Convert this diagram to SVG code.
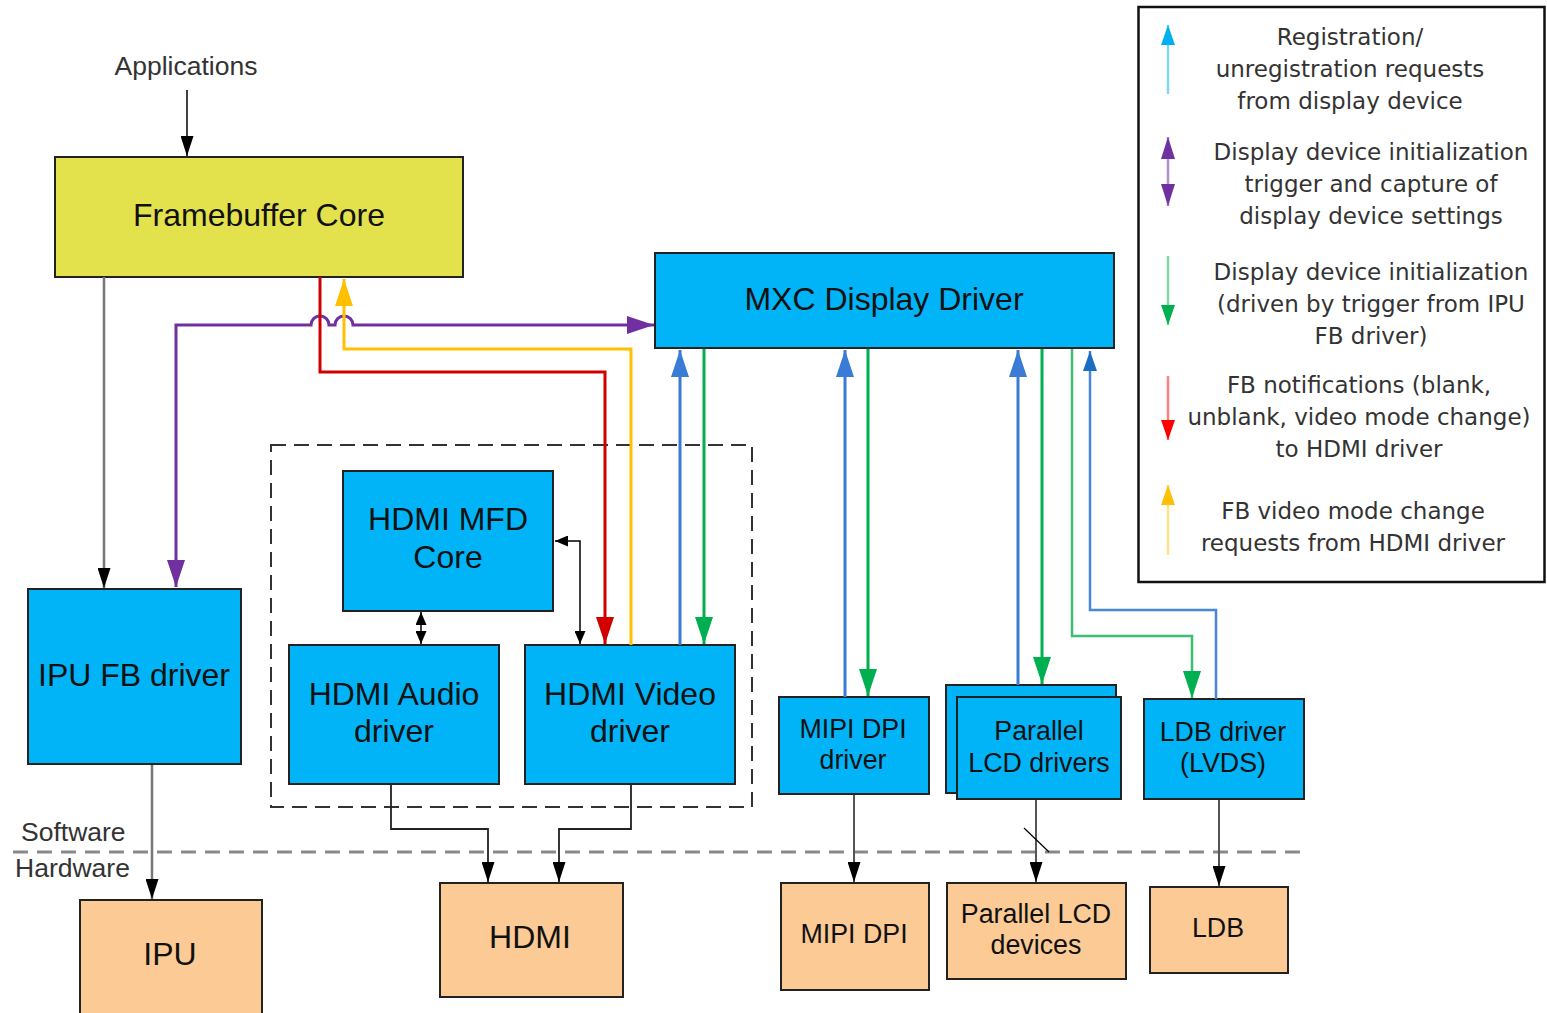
<svg xmlns="http://www.w3.org/2000/svg" width="1547" height="1013" viewBox="0 0 1547 1013">
<style>
.node rect{stroke:#222;stroke-width:2}
.sw rect{fill:#00B4F7}
.hw rect{fill:#FCCA95}
.t31{font-family:"Liberation Sans",Arial,sans-serif;font-size:32px;fill:#111;text-anchor:middle}
.t26{font-family:"Liberation Sans",Arial,sans-serif;font-size:26.8px;fill:#111;text-anchor:middle}
.lab{font-family:"Liberation Sans",Arial,sans-serif;font-size:26.5px;fill:#333}
.leg{font-family:"DejaVu Sans","Liberation Sans",sans-serif;font-size:23px;fill:#333;text-anchor:middle}
.c{fill:none}
</style>
<defs>
<marker id="mBlack" viewBox="0 0 20 13" markerWidth="20" markerHeight="13" refX="20" refY="6.5" orient="auto-start-reverse" markerUnits="userSpaceOnUse"><path d="M0,0 L20,6.5 L0,13 z" fill="#000"/></marker>
<marker id="mSmall" viewBox="0 0 13 11" markerWidth="13" markerHeight="11" refX="13" refY="5.5" orient="auto-start-reverse" markerUnits="userSpaceOnUse"><path d="M0,0 L13,5.5 L0,11 z" fill="#000"/></marker>
<marker id="mPurple" viewBox="0 0 27 18" markerWidth="27" markerHeight="18" refX="27" refY="9" orient="auto-start-reverse" markerUnits="userSpaceOnUse"><path d="M0,0 L27,9 L0,18 z" fill="#7030A0"/></marker>
<marker id="mRed" viewBox="0 0 27 18" markerWidth="27" markerHeight="18" refX="27" refY="9" orient="auto" markerUnits="userSpaceOnUse"><path d="M0,0 L27,9 L0,18 z" fill="#D00000"/></marker>
<marker id="mYellow" viewBox="0 0 27 18" markerWidth="27" markerHeight="18" refX="27" refY="9" orient="auto" markerUnits="userSpaceOnUse"><path d="M0,0 L27,9 L0,18 z" fill="#FFC000"/></marker>
<marker id="mBlue" viewBox="0 0 27 18" markerWidth="27" markerHeight="18" refX="27" refY="9" orient="auto" markerUnits="userSpaceOnUse"><path d="M0,0 L27,9 L0,18 z" fill="#3A7BD5"/></marker>
<marker id="mBlueDk" viewBox="0 0 20 14" markerWidth="20" markerHeight="14" refX="20" refY="7" orient="auto" markerUnits="userSpaceOnUse"><path d="M0,0 L20,7 L0,14 z" fill="#1C6CC4"/></marker>
<marker id="mGreen" viewBox="0 0 27 18" markerWidth="27" markerHeight="18" refX="27" refY="9" orient="auto" markerUnits="userSpaceOnUse"><path d="M0,0 L27,9 L0,18 z" fill="#00B050"/></marker>
<marker id="lCyan" viewBox="0 0 20 14" markerWidth="20" markerHeight="14" refX="20" refY="7" orient="auto-start-reverse" markerUnits="userSpaceOnUse"><path d="M0,0 L20,7 L0,14 z" fill="#00B0F0"/></marker>
<marker id="lPurple" viewBox="0 0 22 14" markerWidth="22" markerHeight="14" refX="22" refY="7" orient="auto-start-reverse" markerUnits="userSpaceOnUse"><path d="M0,0 L22,7 L0,14 z" fill="#7030A0"/></marker>
<marker id="lGreen" viewBox="0 0 20 14" markerWidth="20" markerHeight="14" refX="20" refY="7" orient="auto-start-reverse" markerUnits="userSpaceOnUse"><path d="M0,0 L20,7 L0,14 z" fill="#00B050"/></marker>
<marker id="lRed" viewBox="0 0 20 14" markerWidth="20" markerHeight="14" refX="20" refY="7" orient="auto-start-reverse" markerUnits="userSpaceOnUse"><path d="M0,0 L20,7 L0,14 z" fill="#FF0000"/></marker>
<marker id="lYellow" viewBox="0 0 20 14" markerWidth="20" markerHeight="14" refX="20" refY="7" orient="auto-start-reverse" markerUnits="userSpaceOnUse"><path d="M0,0 L20,7 L0,14 z" fill="#FFC000"/></marker>
</defs>
<rect width="1547" height="1013" fill="#fff"/>

<!-- dashed HDMI group and software/hardware separator -->
<rect id="hdmi-group" x="271" y="445" width="481" height="362" fill="none" stroke="#333" stroke-width="2" stroke-dasharray="15 8"/>
<line id="sw-hw-separator" x1="13" y1="852" x2="1305" y2="852" stroke="#888" stroke-width="3" stroke-dasharray="15 9"/>
<text class="lab" x="21" y="841">Software</text>
<text class="lab" x="15" y="877">Hardware</text>
<text class="lab" x="186" y="75" text-anchor="middle">Applications</text>

<!-- nodes -->
<g id="framebuffer-core" class="node"><rect x="55" y="157" width="408" height="120" fill="#E3E24D"/><text class="t31" x="259" y="226">Framebuffer Core</text></g>
<g id="mxc-display-driver" class="node sw"><rect x="655" y="253" width="459" height="95"/><text class="t31" x="884" y="310">MXC Display Driver</text></g>
<g id="ipu-fb-driver" class="node sw"><rect x="28" y="589" width="213" height="175"/><text class="t31" x="134" y="686">IPU FB driver</text></g>
<g id="hdmi-mfd-core" class="node sw"><rect x="343" y="471" width="210" height="140"/><text class="t31" x="448" y="530">HDMI MFD</text><text class="t31" x="448" y="568">Core</text></g>
<g id="hdmi-audio-driver" class="node sw"><rect x="289" y="645" width="210" height="139"/><text class="t31" x="394" y="705">HDMI Audio</text><text class="t31" x="394" y="742">driver</text></g>
<g id="hdmi-video-driver" class="node sw"><rect x="525" y="645" width="210" height="139"/><text class="t31" x="630" y="705">HDMI Video</text><text class="t31" x="630" y="742">driver</text></g>
<g id="mipi-dpi-driver" class="node sw"><rect x="779" y="697" width="150" height="97"/><text class="t26" x="853" y="738">MIPI DPI</text><text class="t26" x="853" y="769">driver</text></g>
<g id="parallel-lcd-drivers" class="node sw"><rect x="946" y="685" width="170" height="108"/><rect x="957" y="697" width="164" height="102"/><text class="t26" x="1039" y="740">Parallel</text><text class="t26" x="1039" y="772">LCD drivers</text></g>
<g id="ldb-driver" class="node sw"><rect x="1144" y="699" width="160" height="100"/><text class="t26" x="1223" y="741">LDB driver</text><text class="t26" x="1223" y="772">(LVDS)</text></g>
<g id="ipu" class="node hw"><rect x="80" y="900" width="182" height="118"/><text class="t31" x="170" y="965">IPU</text></g>
<g id="hdmi" class="node hw"><rect x="440" y="883" width="183" height="114"/><text class="t31" x="530" y="948">HDMI</text></g>
<g id="mipi-dpi" class="node hw"><rect x="781" y="883" width="148" height="107"/><text class="t26" x="854" y="943">MIPI DPI</text></g>
<g id="parallel-lcd-devices" class="node hw"><rect x="947" y="883" width="179" height="96"/><text class="t26" x="1036" y="923">Parallel LCD</text><text class="t26" x="1036" y="954">devices</text></g>
<g id="ldb" class="node hw"><rect x="1150" y="887" width="138" height="86"/><text class="t26" x="1218" y="937">LDB</text></g>

<!-- connectors -->
<g id="connectors" class="c">
<path d="M187,90 V156" stroke="#000" stroke-width="1.5" marker-end="url(#mBlack)"/>
<path d="M104,277 V588" stroke="#777" stroke-width="2.5" marker-end="url(#mBlack)"/>
<path d="M176,587 V325 H311 a9,9 0 0 1 18,0 H335 a9,9 0 0 1 18,0 H654" stroke="#7030A0" stroke-width="3" marker-start="url(#mPurple)" marker-end="url(#mPurple)"/>
<path d="M320,277 V372 H605 V644" stroke="#D00000" stroke-width="3" marker-end="url(#mRed)"/>
<path d="M631,645 V349 H344 V279" stroke="#FFC000" stroke-width="3" marker-end="url(#mYellow)"/>
<path d="M680,645 V350" stroke="#3A7BD5" stroke-width="3" marker-end="url(#mBlue)"/>
<path d="M704,349 V644" stroke="#00B050" stroke-width="3" marker-end="url(#mGreen)"/>
<path d="M845,697 V350" stroke="#3A7BD5" stroke-width="3" marker-end="url(#mBlue)"/>
<path d="M868,349 V696" stroke="#00B050" stroke-width="3" marker-end="url(#mGreen)"/>
<path d="M1018,685 V350" stroke="#3A7BD5" stroke-width="3" marker-end="url(#mBlue)"/>
<path d="M1042,349 V684" stroke="#00B050" stroke-width="3" marker-end="url(#mGreen)"/>
<path d="M1072,349 V636 H1192 V698" stroke="#3CC070" stroke-width="2.5" marker-end="url(#mGreen)"/>
<path d="M1216,699 V610 H1090 V351" stroke="#4A86D8" stroke-width="2.5" marker-end="url(#mBlueDk)"/>
<path d="M421,612 V644" stroke="#000" stroke-width="1.5" marker-start="url(#mSmall)" marker-end="url(#mSmall)"/>
<path d="M555,541 H580 V644" stroke="#000" stroke-width="1.5" marker-start="url(#mSmall)" marker-end="url(#mSmall)"/>
<path d="M391,785 V829 H488 V882" stroke="#222" stroke-width="1.8" marker-end="url(#mBlack)"/>
<path d="M631,785 V829 H559 V882" stroke="#222" stroke-width="1.8" marker-end="url(#mBlack)"/>
<path d="M152,765 V899" stroke="#777" stroke-width="2.5" marker-end="url(#mBlack)"/>
<path d="M854,795 V882" stroke="#555" stroke-width="2" marker-end="url(#mBlack)"/>
<path d="M1036,800 V882" stroke="#555" stroke-width="2" marker-end="url(#mBlack)"/>
<path d="M1024,828 L1049,852" stroke="#000" stroke-width="1.2"/>
<path d="M1219,800 V886" stroke="#555" stroke-width="2" marker-end="url(#mBlack)"/>
</g>

<!-- legend -->
<g id="legend">
<rect x="1138.5" y="7" width="406" height="575" fill="none" stroke="#111" stroke-width="2.5"/>
<path d="M1168,94 V25" stroke="#80D4F6" stroke-width="2.5" fill="none" marker-end="url(#lCyan)"/>
<path d="M1168,137 V206" stroke="#AE90CF" stroke-width="2.5" fill="none" marker-start="url(#lPurple)" marker-end="url(#lPurple)"/>
<path d="M1168,256 V325" stroke="#80D8A4" stroke-width="2.5" fill="none" marker-end="url(#lGreen)"/>
<path d="M1168,376 V440" stroke="#FF8080" stroke-width="2.5" fill="none" marker-end="url(#lRed)"/>
<path d="M1168,555 V485" stroke="#FFE08A" stroke-width="2.5" fill="none" marker-end="url(#lYellow)"/>
<text class="leg" x="1350" y="45">Registration/</text>
<text class="leg" x="1350" y="77">unregistration requests</text>
<text class="leg" x="1350" y="109">from display device</text>
<text class="leg" x="1371" y="160">Display device initialization</text>
<text class="leg" x="1371" y="192">trigger and capture of</text>
<text class="leg" x="1371" y="224">display device settings</text>
<text class="leg" x="1371" y="280">Display device initialization</text>
<text class="leg" x="1371" y="312">(driven by trigger from IPU</text>
<text class="leg" x="1371" y="344">FB driver)</text>
<text class="leg" x="1359" y="393">FB notifications (blank,</text>
<text class="leg" x="1359" y="425">unblank, video mode change)</text>
<text class="leg" x="1359" y="457">to HDMI driver</text>
<text class="leg" x="1353" y="519">FB video mode change</text>
<text class="leg" x="1353" y="551">requests from HDMI driver</text>
</g>
</svg>
